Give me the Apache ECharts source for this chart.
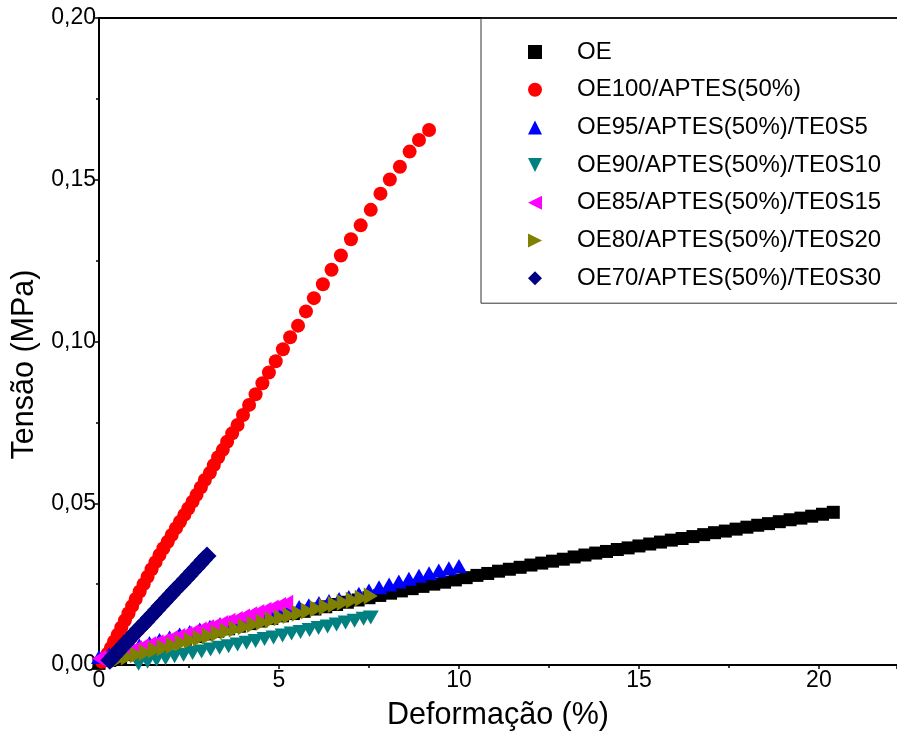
<!DOCTYPE html>
<html><head><meta charset="utf-8">
<script src="https://cdn.jsdelivr.net/npm/echarts@6/dist/echarts.min.js"></script>
<style>html,body{margin:0;padding:0;background:#fff}#c{width:897px;height:738px}</style>
</head><body><div id="c"></div>
<script>
const seriesNames = ['OE','OE100/APTES(50%)','OE95/APTES(50%)/TE0S5','OE90/APTES(50%)/TE0S10','OE85/APTES(50%)/TE0S15','OE80/APTES(50%)/TE0S20','OE70/APTES(50%)/TE0S30'];
const xTicks = [0,5,10,15,20];
const yTicks = [0,0.05,0.10,0.15,0.20];

const oe = [[0.0,0.0005],[0.3,0.0014],[0.6,0.0023],[0.9,0.0032],[1.2,0.0041],[1.5,0.0050],[1.8,0.0059],[2.1,0.0071],[2.4,0.0080],[2.7,0.0088],[3.0,0.0096],[3.3,0.0104],[3.6,0.0112],[3.9,0.0120],[4.2,0.0128],[4.5,0.0136],[4.8,0.0144],[5.1,0.0152],[5.4,0.0159],[5.7,0.0166],[6.0,0.0173],[6.3,0.0180],[6.6,0.0187],[6.9,0.0194],[7.2,0.0201],[7.5,0.0208],[7.8,0.0215],[8.1,0.0222],[8.4,0.0229],[8.7,0.0236],[9.0,0.0243],[9.3,0.0250],[9.6,0.0256],[9.9,0.0263],[10.2,0.0270],[10.5,0.0277],[10.8,0.0283],[11.1,0.0290],[11.4,0.0296],[11.7,0.0302],[12.0,0.0309],[12.3,0.0315],[12.6,0.0321],[12.9,0.0327],[13.2,0.0334],[13.5,0.0340],[13.8,0.0346],[14.1,0.0351],[14.4,0.0357],[14.7,0.0362],[15.0,0.0368],[15.3,0.0374],[15.6,0.0380],[15.9,0.0386],[16.2,0.0391],[16.5,0.0397],[16.8,0.0403],[17.1,0.0409],[17.4,0.0414],[17.7,0.0420],[18.0,0.0426],[18.3,0.0432],[18.6,0.0437],[18.9,0.0443],[19.2,0.0449],[19.5,0.0454],[19.8,0.0460],[20.1,0.0466],[20.4,0.0472]];

const oe100 = [[0.08,0.0010],[0.15,0.0020],[0.24,0.0035],[0.33,0.0053],[0.42,0.0073],[0.52,0.0094],[0.62,0.0116],[0.72,0.0138],[0.82,0.0160],[0.92,0.0182],[1.02,0.0204],[1.13,0.0227],[1.24,0.0250],[1.35,0.0273],[1.46,0.0296],[1.57,0.0318],[1.68,0.0340],[1.79,0.0361],[1.91,0.0381],[2.02,0.0402],[2.14,0.0423],[2.25,0.0443],[2.37,0.0464],[2.48,0.0484],[2.60,0.0505],[2.71,0.0526],[2.83,0.0549],[2.94,0.0572],[3.08,0.0594],[3.19,0.0618],[3.31,0.0642],[3.44,0.0665],[3.56,0.0690],[3.70,0.0716],[3.85,0.0742],[4.00,0.0773],[4.17,0.0804],[4.35,0.0837],[4.54,0.0871],[4.72,0.0904],[4.91,0.0939],[5.11,0.0976],[5.31,0.1013],[5.53,0.1049],[5.75,0.1093],[5.97,0.1134],[6.22,0.1177],[6.46,0.1222],[6.72,0.1266],[7.00,0.1316],[7.27,0.1359],[7.55,0.1407],[7.82,0.1457],[8.08,0.1501],[8.36,0.1540],[8.63,0.1587],[8.89,0.1623],[9.17,0.1654]];

const oe95 = [[0.00,0.0025],[0.28,0.0033],[0.56,0.0042],[0.84,0.0051],[1.12,0.0060],[1.40,0.0068],[1.68,0.0077],[1.96,0.0085],[2.24,0.0094],[2.52,0.0102],[2.80,0.0110],[3.08,0.0118],[3.36,0.0126],[3.64,0.0133],[3.92,0.0140],[4.20,0.0147],[4.48,0.0154],[4.76,0.0161],[5.04,0.0169],[5.31,0.0176],[5.56,0.0179],[5.83,0.0185],[6.11,0.0192],[6.39,0.0198],[6.67,0.0204],[6.94,0.0210],[7.22,0.0220],[7.50,0.0230],[7.78,0.0240],[8.06,0.0249],[8.33,0.0258],[8.61,0.0267],[8.89,0.0276],[9.17,0.0284],[9.44,0.0292],[9.72,0.0299],[10.00,0.0306]];

const oe90 = [[1.10,0.0004],[1.35,0.0010],[1.60,0.0016],[1.85,0.0021],[2.10,0.0027],[2.35,0.0032],[2.60,0.0037],[2.85,0.0042],[3.10,0.0048],[3.35,0.0053],[3.60,0.0058],[3.85,0.0063],[4.10,0.0069],[4.35,0.0074],[4.60,0.0080],[4.85,0.0085],[5.10,0.0091],[5.35,0.0097],[5.60,0.0102],[5.85,0.0108],[6.10,0.0114],[6.35,0.0119],[6.60,0.0125],[6.85,0.0131],[7.10,0.0137],[7.35,0.0143],[7.55,0.0147]];

const oe85 = [[0.0,0.0020],[0.2,0.0026],[0.4,0.0032],[0.6,0.0038],[0.8,0.0044],[1.0,0.0050],[1.2,0.0057],[1.4,0.0063],[1.6,0.0069],[1.8,0.0075],[2.0,0.0082],[2.2,0.0088],[2.4,0.0095],[2.6,0.0101],[2.8,0.0108],[3.0,0.0115],[3.2,0.0121],[3.4,0.0128],[3.6,0.0135],[3.8,0.0141],[4.0,0.0148],[4.2,0.0155],[4.4,0.0162],[4.6,0.0169],[4.8,0.0176],[5.0,0.0184],[5.2,0.0191]];

const oe80 = [[0.55,0.0018],[0.80,0.0025],[1.05,0.0032],[1.30,0.0039],[1.55,0.0046],[1.80,0.0053],[2.05,0.0060],[2.30,0.0068],[2.55,0.0076],[2.80,0.0083],[3.05,0.0090],[3.30,0.0097],[3.55,0.0104],[3.80,0.0111],[4.05,0.0118],[4.30,0.0125],[4.55,0.0132],[4.80,0.0139],[5.05,0.0146],[5.30,0.0153],[5.55,0.0160],[5.80,0.0167],[6.05,0.0174],[6.30,0.0180],[6.55,0.0187],[6.80,0.0193],[7.05,0.0200],[7.30,0.0206],[7.55,0.0213]];

const oe70 = [[0.30,0.0015],[0.40,0.0027],[0.50,0.0039],[0.60,0.0051],[0.70,0.0063],[0.80,0.0075],[0.90,0.0087],[1.00,0.0099],[1.10,0.0111],[1.20,0.0122],[1.30,0.0134],[1.40,0.0146],[1.50,0.0158],[1.60,0.0170],[1.70,0.0182],[1.80,0.0194],[1.90,0.0206],[2.00,0.0218],[2.10,0.0230],[2.20,0.0242],[2.30,0.0253],[2.40,0.0265],[2.50,0.0277],[2.60,0.0289],[2.70,0.0301],[2.80,0.0313],[2.90,0.0325],[3.00,0.0337]];

const seriesData = [oe, oe100, oe95, oe90, oe85, oe80, oe70];
const colors = ['#000000','#FF0000','#0000FF','#008080','#FF00FF','#808000','#000080'];
const symbols = ['rect','circle','triangle','path://M0,0 L10,0 L5,10 Z','path://M10,0 L0,5 L10,10 Z','path://M0,0 L10,5 L0,10 Z','diamond'];
const sizes = [13, 14, [16,14], [16,14], [14,17], [14,17], 19];

const FONT = '"Liberation Sans", Arial, sans-serif';
const chart = echarts.init(document.getElementById('c'), null, {renderer:'canvas'});
const XMAX = 22.17;
chart.setOption({
  animation:false,
  backgroundColor:'#ffffff',
  grid:{left:99, top:18, right:0, bottom:73, containLabel:false},
  legend:{
    orient:'vertical', left:481, top:18,
    padding:[22,40,13,47],
    itemWidth:14, itemHeight:14, itemGap:13.7,
    borderColor:'#333', borderWidth:1,
    textStyle:{fontFamily:FONT, fontSize:24, color:'#000', lineHeight:24, padding:[0,0,0,30]},
    data:seriesNames
  },
  xAxis:[{
    type:'value', min:0, max:XMAX, interval:5,
    name:'Deformação (%)', nameLocation:'middle', nameGap:35,
    nameTextStyle:{fontFamily:FONT, fontSize:30.5, color:'#000'},
    axisLine:{show:true, onZero:false, lineStyle:{color:'#000', width:2}},
    axisTick:{show:true, length:4, lineStyle:{color:'#000', width:1.5}},
    minorTick:{show:true, splitNumber:2, length:3, lineStyle:{color:'#000', width:1.5}},
    splitLine:{show:false},
    axisLabel:{fontFamily:FONT, fontSize:23, color:'#000', margin:4, showMaxLabel:false,
      formatter:function(v){return xTicks.indexOf(v)>=0 ? String(v) : '';}}
  },{
    type:'value', position:'top', min:0, max:XMAX,
    axisLine:{show:true, onZero:false, lineStyle:{color:'#000', width:2}},
    axisTick:{show:false}, axisLabel:{show:false}, splitLine:{show:false}
  }],
  yAxis:{
    type:'value', min:0, max:0.2, interval:0.05,
    name:'Tensão (MPa)', nameLocation:'middle', nameGap:57,
    nameTextStyle:{fontFamily:FONT, fontSize:30.5, color:'#000', padding:[0,46,0,0]},
    axisLine:{show:true, onZero:false, lineStyle:{color:'#000', width:2}},
    axisTick:{show:true, length:4, lineStyle:{color:'#000', width:1.5}},
    minorTick:{show:true, splitNumber:2, length:3, lineStyle:{color:'#000', width:1.5}},
    splitLine:{show:false},
    axisLabel:{fontFamily:FONT, fontSize:23, color:'#000', margin:3,
      formatter:function(v){return v.toFixed(2).replace('.', ',');}}
  },
  series: seriesData.map(function(d,i){
    return {
      type:'scatter', name:seriesNames[i], data:d,
      symbol:symbols[i], symbolSize:sizes[i],
      itemStyle:{color:colors[i], opacity:1},
      emphasis:{disabled:true},
      clip:false
    };
  })
});
</script></body></html>
